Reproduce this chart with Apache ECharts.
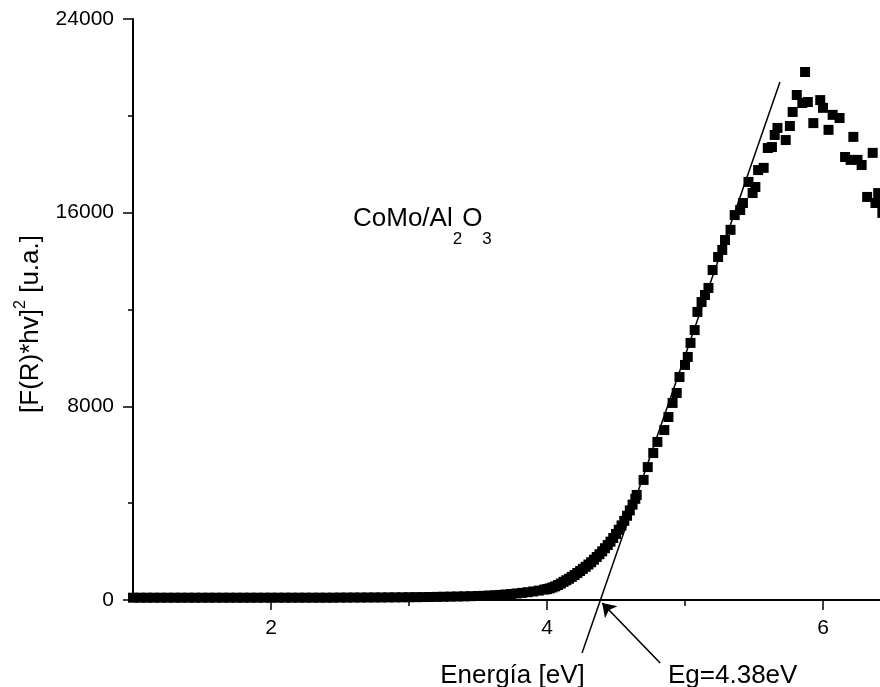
<!DOCTYPE html>
<html><head><meta charset="utf-8">
<script src="https://cdn.jsdelivr.net/npm/echarts@6/dist/echarts.min.js"></script>
<style>html,body{margin:0;padding:0;background:#fff}#c{width:880px;height:687px}</style>
</head><body><div id="c"></div>
<script>
// Photon energy [eV]
const energy = [
  1.00,1.05,1.10,1.15,1.20,1.25,1.30,1.35,1.40,1.45,
  1.50,1.55,1.60,1.65,1.70,1.75,1.80,1.85,1.90,1.95,
  2.00,2.05,2.10,2.15,2.20,2.25,2.30,2.35,2.40,2.45,
  2.50,2.55,2.60,2.65,2.70,2.75,2.80,2.85,2.90,2.95,
  3.00,3.05,3.10,3.15,3.20,3.25,3.30,3.35,3.40,3.45,
  3.50,3.54,3.58,3.62,3.66,3.70,3.74,3.78,3.82,3.86,3.90,3.94,3.98,
  4.00,4.02,4.04,4.06,4.08,4.10,4.12,4.14,4.16,4.18,
  4.20,4.22,4.24,4.26,4.28,4.30,4.32,4.34,4.36,4.38,
  4.40,4.42,4.44,4.46,4.48,4.50,4.52,4.54,4.56,4.58,
  4.60,4.62,4.64,
  4.65,4.70,4.73,4.77,4.80,4.85,4.88,4.91,4.94,4.96,
  5.00,5.02,5.04,5.07,5.09,5.12,5.145,5.17,5.20,5.24,5.27,5.29,
  5.33,5.36,5.40,5.42,5.46,5.49,5.51,5.53,5.57,5.60,5.63,5.65,5.67,
  5.73,5.76,5.78,5.81,5.85,5.87,5.89,5.93,5.98,6.00,6.04,6.07,
  6.12,6.16,6.20,6.22,6.25,6.28,6.32,6.36,6.38,6.40,6.43
];
// [F(R)*hv]^2 [u.a.]
const intensity = [
  95,95,95,95,95,95,95,95,95,95,
  95,95,95,95,95,95,95,95,95,95,
  96,96,96,96,96,96,96,96,96,96,
  100,100,102,102,104,105,106,108,110,112,
  115,118,121,125,129,134,139,145,151,158,
  165,172,182,195,210,228,248,270,295,322,352,388,430,
  450,480,520,565,620,680,750,815,880,955,
  1030,1115,1200,1285,1370,1465,1560,1665,1775,1890,
  2010,2140,2270,2410,2560,2730,2900,3080,3270,3480,
  3700,3940,4180,
  4340,4960,5490,6070,6530,7020,7560,8140,8550,9210,
  9710,10040,10620,11150,11900,12310,12600,12890,13630,14170,14460,14870,
  15290,15900,16110,16400,17270,16810,17060,17760,17850,18670,18710,19210,19500,
  19000,19580,20160,20860,20530,21810,20570,19700,20650,20330,19420,20040,
  19910,18300,18180,19130,18180,17970,16650,18470,16400,16810,15990
];
// Linear (Tauc) fit line end points
const fitE = [4.254, 5.688];
const fitV = [-2190, 21400];
// Arrow from the Eg label to the intercept
const arrowE = [4.82, 4.40];
const arrowV = [-2600, -124];
// Axis ticks
const xMajorTicks = [2, 4, 6];
const xMinorTicks = [3, 5];
const yMin = 0, yMax = 24000, yStep = 8000;

const FONT = 'Liberation Sans, Arial, sans-serif';
const chart = echarts.init(document.getElementById('c'));
chart.setOption({
  animation: false,
  backgroundColor: '#fff',
  grid: { left: 133, top: 19, width: 759, height: 581, containLabel: false, outerBoundsMode: 'none' },
  xAxis: [{
    type: 'value', min: 1, max: 6.5,
    axisLine: { show: true, lineStyle: { color: '#000', width: 2 } },
    axisTick: { show: true, inside: false, length: 10, customValues: xMajorTicks, lineStyle: { color: '#000', width: 1.5 } },
    axisLabel: { show: true, customValues: xMajorTicks, margin: 18, fontSize: 21, color: '#000', fontFamily: FONT,
      formatter: v => String(v) },
    splitLine: { show: false },
    name: 'Energía [eV]', nameLocation: 'middle', nameGap: 63,
    nameTextStyle: { fontSize: 26, color: '#000', fontFamily: FONT }
  }, {
    type: 'value', min: 1, max: 6.5, position: 'bottom', gridIndex: 0,
    axisLine: { show: false },
    axisTick: { show: true, inside: false, length: 6, customValues: xMinorTicks, lineStyle: { color: '#000', width: 1.5 } },
    axisLabel: { show: false },
    splitLine: { show: false }
  }],
  yAxis: {
    type: 'value', min: yMin, max: yMax, interval: yStep,
    axisLine: { show: true, lineStyle: { color: '#000', width: 2 } },
    axisTick: { show: true, inside: false, length: 10, lineStyle: { color: '#000', width: 1.5 } },
    minorTick: { show: true, splitNumber: 2, length: 5, lineStyle: { color: '#000', width: 1.5 } },
    axisLabel: { margin: 19, fontSize: 21, color: '#000', fontFamily: FONT, formatter: v => String(v) },
    splitLine: { show: false }
  },
  series: [{
    type: 'scatter',
    symbol: 'rect', symbolSize: 10,
    itemStyle: { color: '#000', opacity: 1 },
    data: energy.map((e, i) => [e, intensity[i]]),
    z: 3, silent: true
  }, {
    type: 'line',
    data: fitE.map((e, i) => [e, fitV[i]]),
    showSymbol: false, symbol: 'none', clip: false,
    lineStyle: { color: '#000', width: 1.5 },
    z: 4, silent: true
  }, {
    type: 'lines', coordinateSystem: 'cartesian2d', clip: false,
    symbol: ['none', 'arrow'], symbolSize: 13,
    lineStyle: { color: '#000', width: 1.6, opacity: 1, curveness: 0 },
    data: [{ coords: arrowE.map((e, i) => [e, arrowV[i]]) }],
    z: 4, silent: true
  }],
  graphic: [{
    type: 'text', x: 353, y: 219, silent: true,
    style: {
      text: '{a|CoMo/Al}{s|2}{a|O}{s|3}',
      align: 'left', verticalAlign: 'middle', textAlign: 'left', textVerticalAlign: 'middle',
      rich: {
        a: { fontSize: 26, fontFamily: FONT, fill: '#000', color: '#000' },
        s: { fontSize: 17, fontFamily: FONT, fill: '#000', color: '#000', padding: [41, 0, 0, 0] }
      }
    }
  }, {
    type: 'text', x: 31, y: 324, rotation: Math.PI / 2, silent: true,
    style: {
      text: '{a|[F(R)*hv]}{s|2}{a| [u.a.]}',
      align: 'center', verticalAlign: 'middle', textAlign: 'center', textVerticalAlign: 'middle',
      rich: {
        a: { fontSize: 26, fontFamily: FONT, fill: '#000', color: '#000' },
        s: { fontSize: 16, fontFamily: FONT, fill: '#000', color: '#000', padding: [0, 0, 20, 0] }
      }
    }
  }, {
    type: 'text', x: 668, y: 676, silent: true,
    style: {
      text: 'Eg=4.38eV', font: '26px ' + FONT, fill: '#000',
      align: 'left', verticalAlign: 'middle', textAlign: 'left', textVerticalAlign: 'middle'
    }
  }]
});
</script></body></html>
